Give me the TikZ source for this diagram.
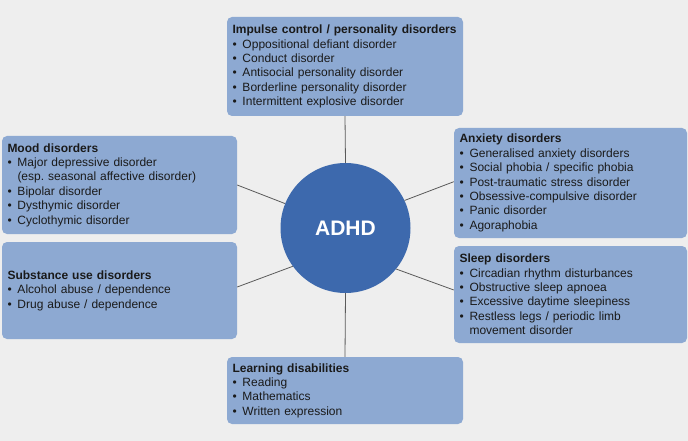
\documentclass[tikz,border=0pt]{standalone}
\usepackage{fontspec}
\setmainfont{Liberation Sans}
\frenchspacing
\definecolor{bgcol}{HTML}{EEEEEE}
\definecolor{boxcol}{HTML}{8DA9D2}
\definecolor{circcol}{HTML}{3D69AD}
\definecolor{txtcol}{HTML}{1A1A1A}
\definecolor{linecol}{HTML}{5A5A5A}
\newcommand\bu{\makebox[10pt][l]{•}}
\newcommand\ind{\hspace*{10pt}}
\begin{document}
\begin{tikzpicture}[x=1pt,y=-1pt,
  box/.style={fill=boxcol, rounded corners=5pt, align=left, inner xsep=5.5pt, inner ysep=0pt,
    text=txtcol, font=\fontsize{12}{14.4}\selectfont},
  conn/.style={draw=linecol, line width=0.8pt}]
\fill[bgcol] (0,0) rectangle (688,441);
\useasboundingbox (0,0) rectangle (688,441);

\node[box, minimum width=236pt, text width=225pt, minimum height=99pt] (top) at (345,66.5)
 {\textbf{Impulse control / personality disorders}\\
  \bu Oppositional defiant disorder\\
  \bu Conduct disorder\\
  \bu Antisocial personality disorder\\
  \bu Borderline personality disorder\\
  \bu Intermittent explosive disorder};

\node[box, minimum width=235pt, text width=224pt, minimum height=98pt] (mood) at (119.5,185)
 {\textbf{Mood disorders}\\
  \bu Major depressive disorder\\
  \ind (esp.\ seasonal affective disorder)\\
  \bu Bipolar disorder\\
  \bu Dysthymic disorder\\
  \bu Cyclothymic disorder};

\node[box, minimum width=235pt, text width=224pt, minimum height=97pt] (subst) at (119.5,290.5)
 {\textbf{Substance use disorders}\\
  \bu Alcohol abuse / dependence\\
  \bu Drug abuse / dependence};

\node[box, minimum width=233pt, text width=222pt, minimum height=110pt] (anx) at (570.5,183)
 {\textbf{Anxiety disorders}\\
  \bu Generalised anxiety disorders\\
  \bu Social phobia / specific phobia\\
  \bu Post-traumatic stress disorder\\
  \bu Obsessive-compulsive disorder\\
  \bu Panic disorder\\
  \bu Agoraphobia};

\node[box, minimum width=233pt, text width=222pt, minimum height=97pt] (sleep) at (570.5,294.5)
 {\textbf{Sleep disorders}\\
  \bu Circadian rhythm disturbances\\
  \bu Obstructive sleep apnoea\\
  \bu Excessive daytime sleepiness\\
  \bu Restless legs / periodic limb\\
  \ind movement disorder};

\node[box, minimum width=236pt, text width=225pt, minimum height=67pt] (learn) at (345,390.5)
 {\textbf{Learning disabilities}\\
  \bu Reading\\
  \bu Mathematics\\
  \bu Written expression};

\node[circle, fill=circcol, minimum size=130pt, inner sep=0pt, text=white,
  font=\fontsize{21}{25}\selectfont\bfseries] (adhd) at (345.5,228) {ADHD};

\draw[conn] (top.south) -- (adhd.north);
\draw[conn] (adhd.south) -- (learn.north);
\draw[conn] (mood.east) -- (adhd.158);
\draw[conn] ([yshift=3.5pt]subst.east) -- (adhd.216);
\draw[conn] ([yshift=1.3pt]anx.west) -- (adhd.25);
\draw[conn] ([yshift=4.5pt]sleep.west) -- (adhd.321);
\end{tikzpicture}
\end{document}
